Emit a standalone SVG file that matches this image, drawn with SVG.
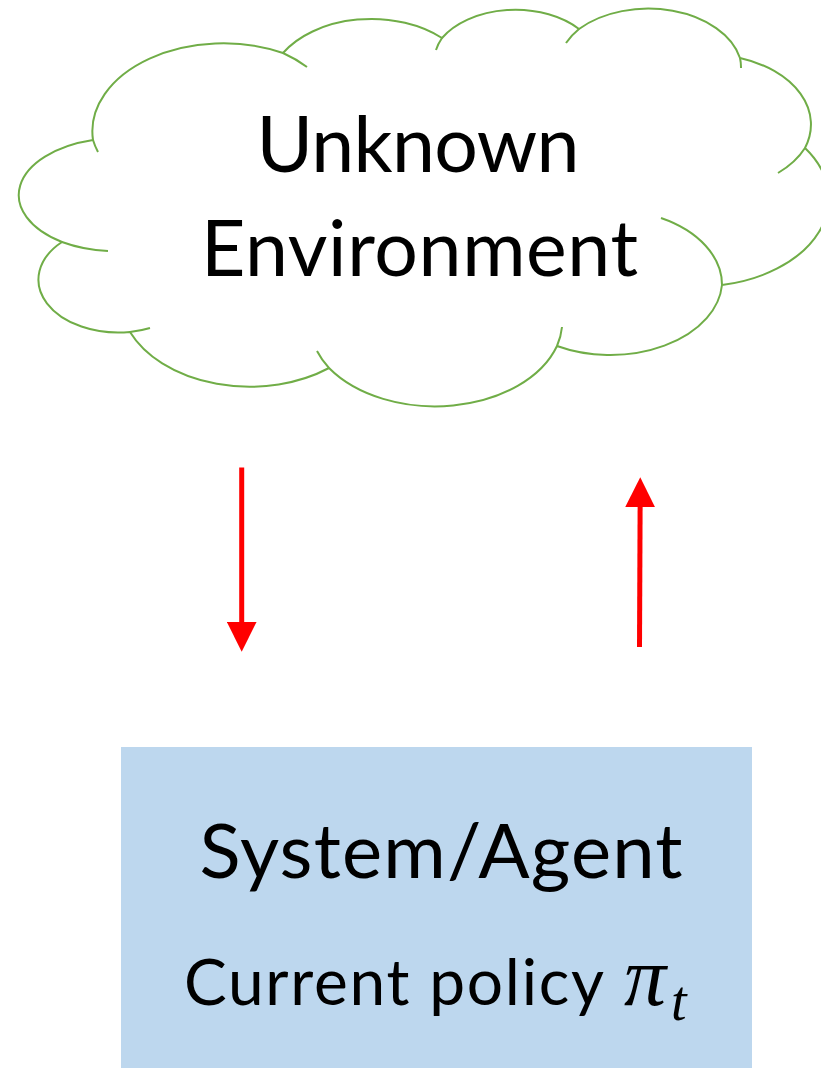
<svg xmlns="http://www.w3.org/2000/svg" width="821" height="1068" viewBox="0 0 821 1068">
  <style>
    .cloud { fill: #FFFFFF; stroke: #70AD47; stroke-width: 2; stroke-linejoin: round; }
    .tick { fill: none; stroke: #70AD47; stroke-width: 2; stroke-linecap: butt; }
    .label { font-family: Lato, "Open Sans", "Liberation Sans", sans-serif; fill: #000000; text-anchor: middle; }
    .math { font-family: "Liberation Serif", "DejaVu Serif", serif; font-style: italic; fill: #000000; }
    .flow { stroke: #FF0000; stroke-width: 5; fill: none; }
  </style>
  <defs>
    <marker id="head" markerUnits="userSpaceOnUse" markerWidth="30" markerHeight="30"
            refX="20" refY="15" orient="auto" viewBox="0 0 30 30">
      <path d="M0,0 L30,15 L0,30 Z" fill="#FF0000"/>
    </marker>
  </defs>

  <rect width="821" height="1068" fill="#FFFFFF"/>

  <!-- Environment cloud: eleven lobes plus the inner tick arcs -->
  <g id="environment">
    <path class="cloud" d="M93,140
      A100,57 0 0 0 62,242
      A80,53 0 0 0 130,332
      A130,90 0 0 0 329,368
      A128,87 0 0 0 557,346
      A112,75 0 0 0 722,285
      A131,88 0 0 0 805,148
      A103,70 0 0 0 740,58
      A94,63 0 0 0 579,29
      A85,57 0 0 0 442,38
      A103,70 0 0 0 283,53
      A131,88 0 0 0 93,140 Z"/>
    <path class="tick" d="M93,140 A131,88 0 0 0 98,152
      M307,67 A131,88 0 0 0 283,53
      M62,242 A100,57 0 0 0 108,251
      M130,332 A80,53 0 0 0 150,328
      M317,351 A128,87 0 0 0 329,368
      M557,346 A128,87 0 0 0 562,327
      M722,285 A112,75 0 0 0 661,218
      M778,173 A103,70 0 0 0 805,148
      M741,68 A94,63 0 0 0 740,58
      M579,29 A94,63 0 0 0 566,43
      M442,38 A85,57 0 0 0 436,50"/>
    <text class="label" x="418" y="172" font-size="77" textLength="323">Unknown</text>
    <text class="label" x="419.5" y="276" font-size="77" textLength="437">Environment</text>
  </g>

  <!-- System / agent block -->
  <g id="agent">
    <rect x="121" y="747" width="631" height="321" fill="#BDD7EE"/>
    <text class="label" x="441" y="878" font-size="76" textLength="483">System/Agent</text>
    <text class="label" x="394" y="1005" font-size="64" textLength="420">Current policy</text>
    <text class="math" x="624" y="1005" font-size="84">π</text>
    <text class="math" x="671" y="1020" font-size="56">t</text>
  </g>

  <!-- Interaction arrows -->
  <g id="connectors">
    <line class="flow" x1="241.7" y1="467.5" x2="241.7" y2="641.7" marker-end="url(#head)"/>
    <line class="flow" x1="639.5" y1="647" x2="640.2" y2="487.3" marker-end="url(#head)"/>
  </g>
</svg>
